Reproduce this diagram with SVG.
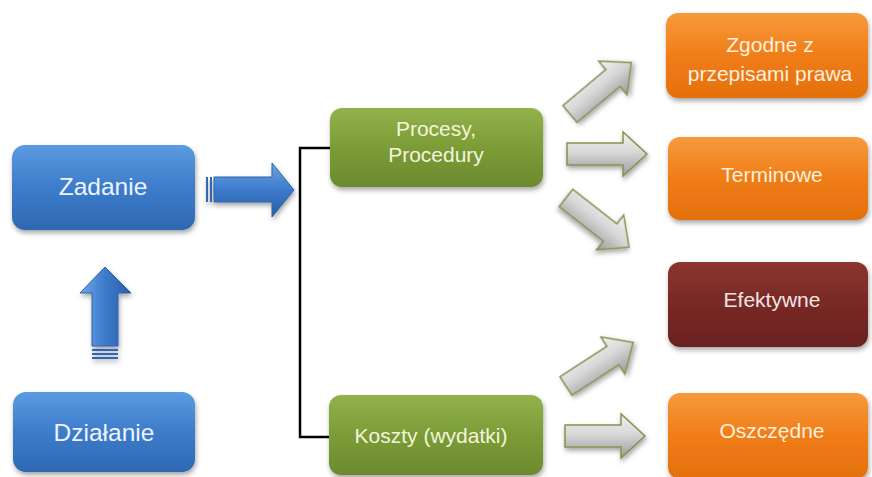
<svg xmlns="http://www.w3.org/2000/svg" width="872" height="477" viewBox="0 0 872 477">
<defs>
  <linearGradient id="gBlue" x1="0" y1="0" x2="0" y2="1">
    <stop offset="0" stop-color="#5b9be0"/>
    <stop offset="0.5" stop-color="#3d7ccb"/>
    <stop offset="1" stop-color="#2e68b2"/>
  </linearGradient>
  <linearGradient id="gGreen" x1="0" y1="0" x2="0" y2="1">
    <stop offset="0" stop-color="#93b24c"/>
    <stop offset="0.5" stop-color="#7c9c37"/>
    <stop offset="1" stop-color="#6c8a2e"/>
  </linearGradient>
  <linearGradient id="gOrange" x1="0" y1="0" x2="0" y2="1">
    <stop offset="0" stop-color="#f79a3c"/>
    <stop offset="0.5" stop-color="#f07d18"/>
    <stop offset="1" stop-color="#e4700e"/>
  </linearGradient>
  <linearGradient id="gRed" x1="0" y1="0" x2="0" y2="1">
    <stop offset="0" stop-color="#8c3530"/>
    <stop offset="0.5" stop-color="#772925"/>
    <stop offset="1" stop-color="#6a221f"/>
  </linearGradient>
  <linearGradient id="gGray" x1="0" y1="0" x2="0" y2="1">
    <stop offset="0" stop-color="#f2f2f2"/>
    <stop offset="0.45" stop-color="#d8d8d8"/>
    <stop offset="1" stop-color="#9a9a9a"/>
  </linearGradient>
  <linearGradient id="gBlueArrH" x1="0" y1="0" x2="0" y2="1">
    <stop offset="0" stop-color="#6ea6e6"/>
    <stop offset="0.5" stop-color="#3c7acb"/>
    <stop offset="1" stop-color="#2a5fa6"/>
  </linearGradient>
  <linearGradient id="gBlueArrV" x1="0" y1="0" x2="1" y2="0">
    <stop offset="0" stop-color="#6ea6e6"/>
    <stop offset="0.5" stop-color="#3c7acb"/>
    <stop offset="1" stop-color="#2a5fa6"/>
  </linearGradient>
  <filter id="sh" x="-10%" y="-10%" width="125%" height="135%">
    <feDropShadow dx="1" dy="3" stdDeviation="2.5" flood-color="#000" flood-opacity="0.35"/>
  </filter>
  <path id="garrow" d="M0,-11 L56,-11 L56,-22 L80,0 L56,22 L56,11 L0,11 Z"/>
</defs>
<style>
  .box { filter: url(#sh); }
  .t { font-family: "Liberation Sans", Arial, sans-serif; text-anchor: middle; }
  .tb { fill: #eef4ff; font-size: 24.5px; }
  .tg { fill: #f4f4dc; font-size: 21px; }
  .to { fill: #fff0dc; font-size: 21px; }
  .tr { fill: #f4e4e4; font-size: 21px; }
  .ga { fill: url(#gGray); stroke: #82934f; stroke-width: 1.5; stroke-linejoin: miter; filter: url(#sh); }
  .conn { fill: none; stroke: #000; stroke-width: 2.5; }
</style>
<rect width="872" height="477" fill="#fff"/>

<g id="connectors">
  <path class="conn" d="M331,148 H300 V437 H331"/>
  <g id="blue-arrow-right" filter="url(#sh)">
    <rect x="206" y="177" width="2" height="25" fill="#2e68b2"/>
    <rect x="210" y="177" width="2" height="25" fill="#2e68b2"/>
    <path d="M214,177 H272 V163 L294,190 L272,217 V202 H214 Z" fill="url(#gBlueArrH)" stroke="#2d64a8" stroke-width="1"/>
  </g>
  <g id="blue-arrow-up" filter="url(#sh)">
    <path d="M92,346 V293 H80 L105,267 L131,293 H118 V346 Z" fill="url(#gBlueArrV)" stroke="#2d64a8" stroke-width="1"/>
    <rect x="92" y="349" width="26" height="2" fill="#2e68b2"/>
    <rect x="92" y="353" width="26" height="2" fill="#2e68b2"/>
    <rect x="92" y="357" width="26" height="2" fill="#2e68b2"/>
  </g>
  <use href="#garrow" class="ga" transform="translate(570,114) rotate(-40)"/>
  <use href="#garrow" class="ga" transform="translate(567,154)"/>
  <use href="#garrow" class="ga" transform="translate(566,198) rotate(38)"/>
  <use href="#garrow" class="ga" transform="translate(566,386) rotate(-33)"/>
  <use href="#garrow" class="ga" transform="translate(565,436)"/>
</g>

<g id="zadanie">
  <rect class="box" x="12" y="145" width="183" height="85" rx="13" fill="url(#gBlue)"/>
  <text class="t tb" x="103" y="195">Zadanie</text>
</g>
<g id="dzialanie">
  <rect class="box" x="13" y="392" width="182" height="80" rx="13" fill="url(#gBlue)"/>
  <text class="t tb" x="104" y="441">Działanie</text>
</g>
<g id="procesy">
  <rect class="box" x="330" y="108" width="213" height="79" rx="12" fill="url(#gGreen)"/>
  <text class="t tg" x="436" y="136">Procesy,</text>
  <text class="t tg" x="436" y="162">Procedury</text>
</g>
<g id="koszty">
  <rect class="box" x="329" y="395" width="214" height="80" rx="12" fill="url(#gGreen)"/>
  <text class="t tg" x="431" y="443">Koszty (wydatki)</text>
</g>
<g id="zgodne">
  <rect class="box" x="666" y="13" width="202" height="85" rx="12" fill="url(#gOrange)"/>
  <text class="t to" x="770" y="52">Zgodne z</text>
  <text class="t to" x="770" y="81">przepisami prawa</text>
</g>
<g id="terminowe">
  <rect class="box" x="668" y="137" width="200" height="83" rx="12" fill="url(#gOrange)"/>
  <text class="t to" x="772" y="182">Terminowe</text>
</g>
<g id="efektywne">
  <rect class="box" x="668" y="262" width="200" height="85" rx="12" fill="url(#gRed)"/>
  <text class="t tr" x="772" y="307">Efektywne</text>
</g>
<g id="oszczedne">
  <rect class="box" x="668" y="393" width="200" height="86" rx="12" fill="url(#gOrange)"/>
  <text class="t to" x="772" y="438">Oszczędne</text>
</g>
</svg>
